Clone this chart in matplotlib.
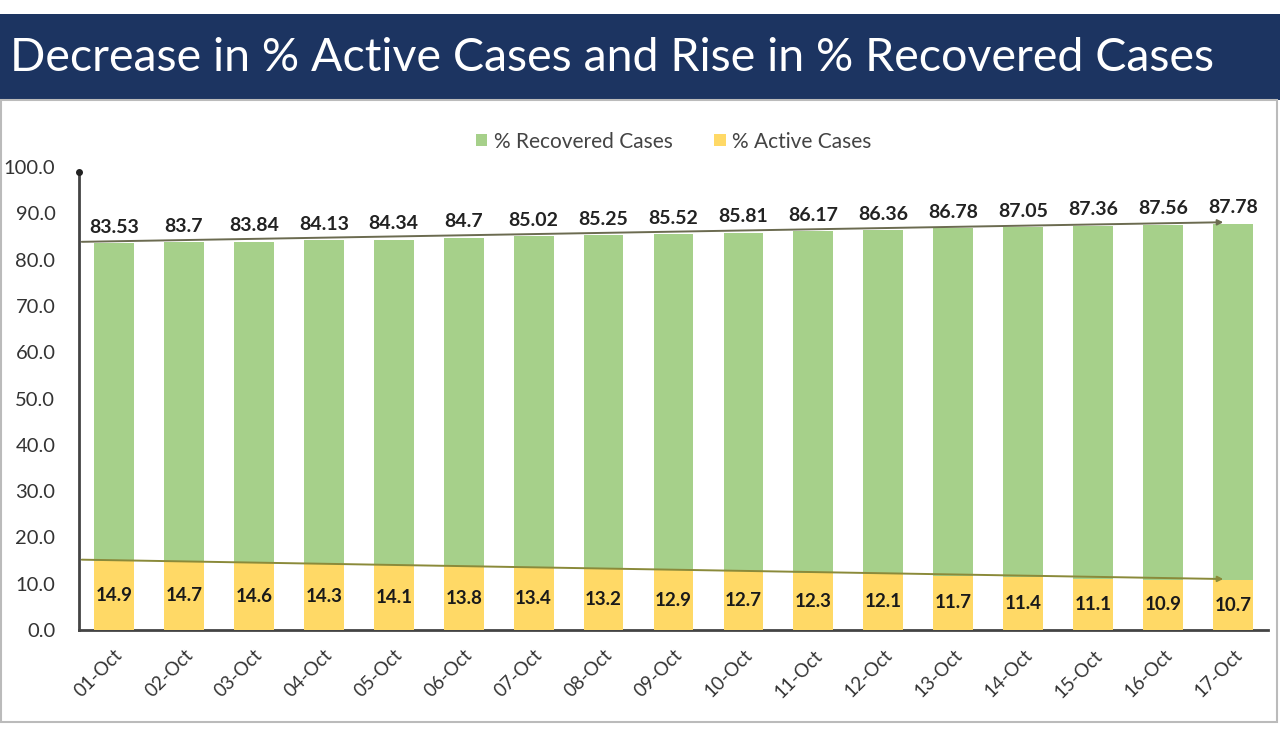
import matplotlib.pyplot as plt
from matplotlib.patches import Rectangle

# data
dates = ['01-Oct', '02-Oct', '03-Oct', '04-Oct', '05-Oct', '06-Oct', '07-Oct', '08-Oct', '09-Oct',
         '10-Oct', '11-Oct', '12-Oct', '13-Oct', '14-Oct', '15-Oct', '16-Oct', '17-Oct']
recovered = [83.53, 83.7, 83.84, 84.13, 84.34, 84.7, 85.02, 85.25, 85.52,
             85.81, 86.17, 86.36, 86.78, 87.05, 87.36, 87.56, 87.78]
active = [14.9, 14.7, 14.6, 14.3, 14.1, 13.8, 13.4, 13.2, 12.9,
          12.7, 12.3, 12.1, 11.7, 11.4, 11.1, 10.9, 10.7]
yticks = [0, 10, 20, 30, 40, 50, 60, 70, 80, 90, 100]

plt.rcParams['font.family'] = ['Lato', 'DejaVu Sans']

GREEN = '#A6D08A'
YELLOW = '#FFD966'
NAVY = '#1C3461'

fig = plt.figure(figsize=(12.8, 7.31), dpi=100)

# title banner
fig.patches.append(Rectangle((0, 1 - 100 / 731), 1, 86 / 731, transform=fig.transFigure,
                             facecolor=NAVY, edgecolor='none'))
fig.text(0.008, 1 - 58 / 731, 'Decrease in % Active Cases and Rise in % Recovered Cases',
         color='white', fontsize=33.5, va='center', ha='left')
# outer frame of the chart box
fig.patches.append(Rectangle((0.001, 1 - 722 / 731), 0.997, 622 / 731, transform=fig.transFigure,
                             facecolor='none', edgecolor='#BBBBBB', linewidth=1.5))

ax = fig.add_axes([79 / 1280, 1 - 630 / 731, (1268 - 79) / 1280, (630 - 167) / 731])
x = list(range(len(dates)))
ax.bar(x, recovered, width=0.57, color=GREEN, label='% Recovered Cases', zorder=2)
ax.bar(x, active, width=0.57, color=YELLOW, label='% Active Cases', zorder=3)

for i in x:
    ax.text(i, recovered[i] + 1.6, f'{recovered[i]:g}', ha='center', va='bottom',
            fontsize=14, fontweight='bold', color='#222222')
    ax.text(i, active[i] / 2, f'{active[i]:g}', ha='center', va='center',
            fontsize=13.5, fontweight='bold', color='#1a1a1a', zorder=4)

# trend arrows
ax.annotate('', xy=(15.9, recovered[-1] + 0.3), xytext=(-0.5, recovered[0] + 0.3),
            arrowprops=dict(arrowstyle='-|>', color='#6b6b50', lw=1.4, mutation_scale=8), zorder=5)
ax.annotate('', xy=(15.9, active[-1] + 0.3), xytext=(-0.5, active[0] + 0.3),
            arrowprops=dict(arrowstyle='-|>', color='#8a8a3a', lw=1.4, mutation_scale=8), zorder=5)

ax.set_xlim(-0.5, 16.5)
ax.set_ylim(0, 100)
ax.set_yticks(yticks)
ax.set_yticklabels([f'{v:.1f}' for v in yticks], fontsize=14.5, color='#333333')
ax.set_xticks(x)
ax.set_xticklabels(dates, rotation=45, ha='right', rotation_mode='anchor', fontsize=13.5, color='#333333')
ax.tick_params(axis='y', length=0, pad=17)
ax.tick_params(axis='x', length=0, pad=12)
for side in ['top', 'right']:
    ax.spines[side].set_visible(False)
ax.spines['left'].set_color('#444444')
ax.spines['left'].set_linewidth(2)
ax.spines['left'].set_bounds(0, 99)
ax.spines['bottom'].set_color('#444444')
ax.spines['bottom'].set_linewidth(2)
ax.plot([-0.5], [99], marker='o', markersize=4, color='#222222', clip_on=False, zorder=6)

ax.legend(loc='center', bbox_to_anchor=(0.5, 1.055), ncol=2, frameon=False,
          fontsize=15, handlelength=0.55, handleheight=0.55, columnspacing=2.0,
          handletextpad=0.3, labelcolor='#444444')

fig.savefig('out.png', dpi=100)
